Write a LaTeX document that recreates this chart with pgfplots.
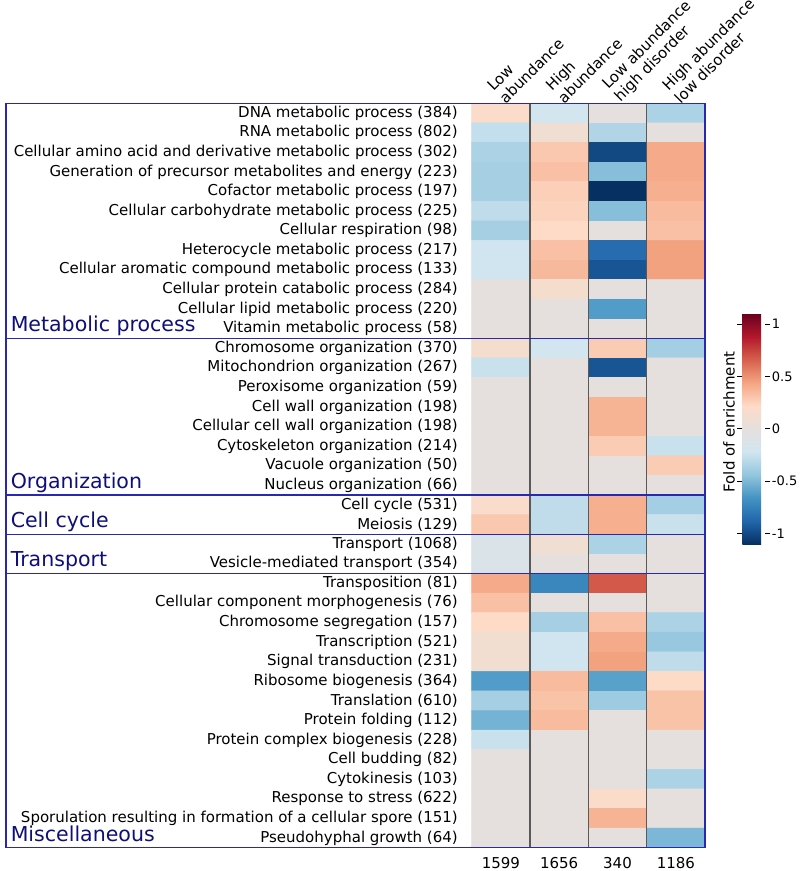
\documentclass[border=0pt]{standalone}
\usepackage{fontspec}
\setmainfont{DejaVu Sans}
\usepackage{pgfplots}
\pgfplotsset{compat=1.18}
\usetikzlibrary{calc}

\definecolor{boxblue}{RGB}{40,40,180}
\definecolor{grpblue}{RGB}{15,15,120}
\newcommand\lblfont{\fontsize{11.25bp}{13bp}\selectfont}
\newcommand\grpfont{\fontsize{15.4bp}{18bp}\selectfont}
\newcommand\cbfont{\fontsize{9.75bp}{12bp}\selectfont}

\begin{document}
\begin{tikzpicture}
\begin{axis}[
  name=ax,
  scale only axis,
  width=175bp, height=558.3bp,
  xmin=-0.5, xmax=3.5, ymin=-0.5, ymax=37.5,
  y dir=reverse,
  enlargelimits=false,
  clip=false,
  axis line style={draw=none},
  xtick=\empty,
  ytick={0,1,...,37},
  major tick length=0pt,
  yticklabel style={font=\lblfont, inner sep=0pt, xshift=-10.3bp},
  yticklabels={
    DNA metabolic process (384),
    RNA metabolic process (802),
    Cellular amino acid and derivative metabolic process (302),
    Generation of precursor metabolites and energy (223),
    Cofactor metabolic process (197),
    Cellular carbohydrate metabolic process (225),
    Cellular respiration (98),
    Heterocycle metabolic process (217),
    Cellular aromatic compound metabolic process (133),
    Cellular protein catabolic process (284),
    Cellular lipid metabolic process (220),
    Vitamin metabolic process (58),
    Chromosome organization (370),
    Mitochondrion organization (267),
    Peroxisome organization (59),
    Cell wall organization (198),
    Cellular cell wall organization (198),
    Cytoskeleton organization (214),
    Vacuole organization (50),
    Nucleus organization (66),
    Cell cycle (531),
    Meiosis (129),
    Transport (1068),
    Vesicle-mediated transport (354),
    Transposition (81),
    Cellular component morphogenesis (76),
    Chromosome segregation (157),
    Transcription (521),
    Signal transduction (231),
    Ribosome biogenesis (364),
    Translation (610),
    Protein folding (112),
    Protein complex biogenesis (228),
    Cell budding (82),
    Cytokinesis (103),
    Response to stress (622),
    Sporulation resulting in formation of a cellular spore (151),
    Pseudohyphal growth (64)},
  colormap={rdbu}{
    rgb255(0)=(5,48,97); rgb255(1)=(33,102,172); rgb255(2)=(67,147,195);
    rgb255(3)=(146,197,222); rgb255(4)=(209,229,240); rgb255(5)=(229,224,221);
    rgb255(6)=(253,219,199); rgb255(7)=(244,165,130); rgb255(8)=(214,96,77);
    rgb255(9)=(178,24,43); rgb255(10)=(103,0,31)},
  point meta min=-1.1, point meta max=1.1,
  colorbar,
  colorbar style={
    at={(parent axis.east)}, anchor=west,
    xshift=19.5bp, yshift=35bp,
    width=17.25bp, height=173bp,
    axis line style={draw=none},
    ytick={-1,-0.5,0,0.5,1},
    yticklabels={-1,-0.5,0,0.5,1},
    yticklabel pos=right,
    tick align=outside,
    major tick length=3.75bp,
    ytick style={black, line width=0.6bp},
    yticklabel style={font=\cbfont, inner sep=1bp},
    ylabel={Fold of enrichment},
    ylabel style={font=\lblfont, at={(axis description cs:-0.12,0.53)}, anchor=south},
  },
]
% columns: low abundance, high abundance, low abundance high disorder, high abundance low disorder
\addplot[matrix plot*, mesh/cols=4, point meta=explicit] coordinates {
(0,0)[0.20] (1,0)[-0.20] (2,0)[0] (3,0)[-0.35]
(0,1)[-0.27] (1,1)[0.10] (2,1)[-0.33] (3,1)[0]
(0,2)[-0.35] (1,2)[0.30] (2,2)[-1.00] (3,2)[0.42]
(0,3)[-0.37] (1,3)[0.33] (2,3)[-0.47] (3,3)[0.42]
(0,4)[-0.37] (1,4)[0.27] (2,4)[-1.10] (3,4)[0.40]
(0,5)[-0.28] (1,5)[0.25] (2,5)[-0.47] (3,5)[0.35]
(0,6)[-0.37] (1,6)[0.22] (2,6)[0] (3,6)[0.33]
(0,7)[-0.22] (1,7)[0.33] (2,7)[-0.85] (3,7)[0.45]
(0,8)[-0.22] (1,8)[0.36] (2,8)[-0.95] (3,8)[0.45]
(0,9)[0] (1,9)[0.15] (2,9)[0] (3,9)[0]
(0,10)[0] (1,10)[0] (2,10)[-0.62] (3,10)[0]
(0,11)[0] (1,11)[0] (2,11)[0] (3,11)[0]
(0,12)[0.15] (1,12)[-0.20] (2,12)[0.28] (3,12)[-0.38]
(0,13)[-0.25] (1,13)[0] (2,13)[-0.95] (3,13)[0]
(0,14)[0] (1,14)[0] (2,14)[0] (3,14)[0]
(0,15)[0] (1,15)[0] (2,15)[0.38] (3,15)[0]
(0,16)[0] (1,16)[0] (2,16)[0.38] (3,16)[0]
(0,17)[0] (1,17)[0] (2,17)[0.28] (3,17)[-0.25]
(0,18)[0] (1,18)[0] (2,18)[0] (3,18)[0.28]
(0,19)[0] (1,19)[0] (2,19)[0] (3,19)[0]
(0,20)[0.18] (1,20)[-0.28] (2,20)[0.40] (3,20)[-0.38]
(0,21)[0.30] (1,21)[-0.28] (2,21)[0.40] (3,21)[-0.25]
(0,22)[-0.12] (1,22)[0.10] (2,22)[-0.35] (3,22)[0]
(0,23)[-0.12] (1,23)[0] (2,23)[0] (3,23)[0]
(0,24)[0.42] (1,24)[-0.72] (2,24)[0.68] (3,24)[0]
(0,25)[0.33] (1,25)[0] (2,25)[0] (3,25)[0]
(0,26)[0.22] (1,26)[-0.37] (2,26)[0.33] (3,26)[-0.35]
(0,27)[0.12] (1,27)[-0.22] (2,27)[0.42] (3,27)[-0.42]
(0,28)[0.12] (1,28)[-0.22] (2,28)[0.45] (3,28)[-0.28]
(0,29)[-0.62] (1,29)[0.35] (2,29)[-0.60] (3,29)[0.22]
(0,30)[-0.37] (1,30)[0.32] (2,30)[-0.40] (3,30)[0.32]
(0,31)[-0.52] (1,31)[0.35] (2,31)[0] (3,31)[0.32]
(0,32)[-0.25] (1,32)[0] (2,32)[0] (3,32)[0]
(0,33)[0] (1,33)[0] (2,33)[0] (3,33)[0]
(0,34)[0] (1,34)[0] (2,34)[0] (3,34)[-0.35]
(0,35)[0] (1,35)[0] (2,35)[0.20] (3,35)[0]
(0,36)[0] (1,36)[0] (2,36)[0.38] (3,36)[0]
(0,37)[0] (1,37)[0] (2,37)[0] (3,37)[-0.50]
};

% column separators
\foreach \c in {0.5,1.5,2.5} {
  \edef\tmp{\noexpand\draw[black!65, line width=1bp] (axis cs:\c,-0.5) -- (axis cs:\c,37.5);}
  \tmp
}

% group boxes
\draw[boxblue, line width=1.1bp] (axis cs:-8.484,-0.5) rectangle (axis cs:3.5,37.5);
\foreach \r in {11.5,19.5,21.5,23.5} {
  \edef\tmp{\noexpand\draw[boxblue, line width=1.1bp] (axis cs:-8.484,\r) -- (axis cs:3.5,\r);}
  \tmp
}

% group names
\node[grpblue, font=\grpfont, anchor=base west, inner sep=0pt] at (axis cs:-8.407,11.15) {Metabolic process};
\node[grpblue, font=\grpfont, anchor=base west, inner sep=0pt] at (axis cs:-8.407,19.15) {Organization};
\node[grpblue, font=\grpfont, anchor=base west, inner sep=0pt] at (axis cs:-8.407,21.15) {Cell cycle};
\node[grpblue, font=\grpfont, anchor=base west, inner sep=0pt] at (axis cs:-8.407,23.15) {Transport};
\node[grpblue, font=\grpfont, anchor=base west, inner sep=0pt] at (axis cs:-8.407,37.2) {Miscellaneous};

% column headers
\node[font=\lblfont, rotate=45, anchor=south west, align=left, inner sep=0pt] at (axis cs:0.09,-0.43) {Low\\abundance};
\node[font=\lblfont, rotate=45, anchor=south west, align=left, inner sep=0pt] at (axis cs:1.09,-0.43) {High\\abundance};
\node[font=\lblfont, rotate=45, anchor=south west, align=left, inner sep=0pt] at (axis cs:2.09,-0.43) {Low abundance\\high disorder};
\node[font=\lblfont, rotate=45, anchor=south west, align=left, inner sep=0pt] at (axis cs:3.09,-0.43) {High abundance\\low disorder};

% column totals
\node[font=\lblfont, anchor=north, inner sep=0pt, yshift=-6.75bp] at (axis cs:0,37.5) {1599};
\node[font=\lblfont, anchor=north, inner sep=0pt, yshift=-6.75bp] at (axis cs:1,37.5) {1656};
\node[font=\lblfont, anchor=north, inner sep=0pt, yshift=-6.75bp] at (axis cs:2,37.5) {340};
\node[font=\lblfont, anchor=north, inner sep=0pt, yshift=-6.75bp] at (axis cs:3,37.5) {1186};
\end{axis}
\pgfresetboundingbox
\path[use as bounding box] ($(ax.south west)+(-353.8bp,-17.5bp)$) rectangle ($(ax.north east)+(71.25bp,77.5bp)$);
\end{tikzpicture}
\end{document}
